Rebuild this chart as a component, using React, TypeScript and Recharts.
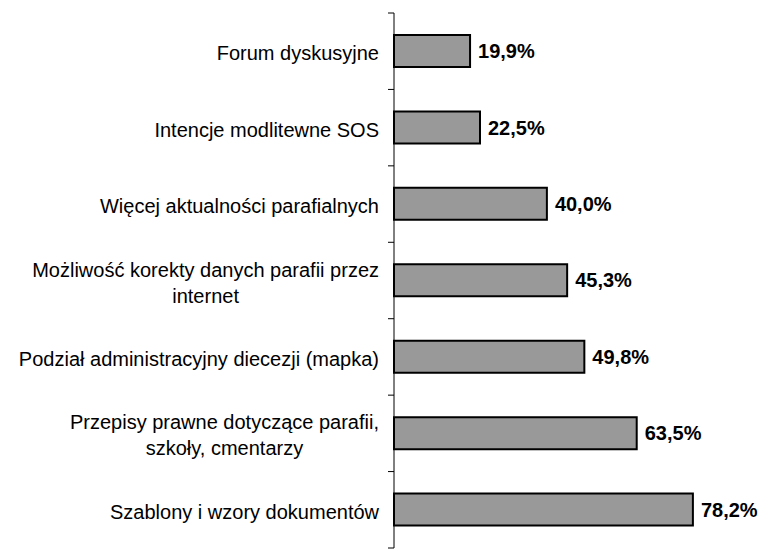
import { BarChart, Bar, XAxis, YAxis, LabelList } from 'recharts';

const categories = [
  'Forum dyskusyjne',
  'Intencje modlitewne SOS',
  'Więcej aktualności parafialnych',
  'Możliwość korekty danych parafii przez\ninternet',
  'Podział administracyjny diecezji (mapka)',
  'Przepisy prawne dotyczące parafii,\nszkoły, cmentarzy',
  'Szablony i wzory dokumentów',
];
const values = [19.9, 22.5, 40.0, 45.3, 49.8, 63.5, 78.2];

const data = categories.map((name, i) => ({ name, value: values[i] }));

const FONT = '"Liberation Sans", Arial, sans-serif';
const FONT_SIZE = 20;
const CHART_H = 549;
const MARGIN = { top: 13, right: 26, bottom: 1, left: 0 };
const BAND = (CHART_H - MARGIN.top - MARGIN.bottom) / categories.length;

let ctx: CanvasRenderingContext2D | null = null;
function textWidth(s: string) {
  if (!ctx) ctx = document.createElement('canvas').getContext('2d');
  if (!ctx) return s.length * 9;
  ctx.font = `${FONT_SIZE}px ${FONT}`;
  return ctx.measureText(s).width;
}

function CategoryTick(props: any) {
  const { x, y, payload, index } = props;
  const lines: string[] = String(payload.value).split('\n');
  const right = x - 9;
  const maxW = Math.max(...lines.map(textWidth));
  const lineH = 26;
  const startY = y - ((lines.length - 1) * lineH) / 2 + 2;
  return (
    <g>
      <line x1={x} x2={x + 6} y1={y - BAND / 2} y2={y - BAND / 2} stroke="#000" />
      {index === categories.length - 1 && (
        <line x1={x} x2={x + 6} y1={y + BAND / 2} y2={y + BAND / 2} stroke="#000" />
      )}
      <text
        fontFamily={FONT}
        fontSize={FONT_SIZE}
        fill="#000"
        textAnchor={lines.length > 1 ? 'middle' : 'end'}
        dominantBaseline="central"
      >
        {lines.map((l, i) => (
          <tspan key={i} x={lines.length > 1 ? right - maxW / 2 : right} y={startY + i * lineH}>
            {l}
          </tspan>
        ))}
      </text>
    </g>
  );
}

export default function App() {
  return (
    <div style={{ position: 'absolute', left: 0, top: 0, background: '#fff' }}>
      <BarChart width={764} height={CHART_H} data={data} layout="vertical" margin={MARGIN} barSize={32}>
        <XAxis type="number" domain={[0, 90]} hide />
        <YAxis
          type="category"
          dataKey="name"
          width={394}
          axisLine={{ stroke: '#000' }}
          tickLine={false}
          tickSize={6}
          tickMargin={0}
          interval={0}
          tick={<CategoryTick />}
        />
        <Bar dataKey="value" fill="#999999" stroke="#000" strokeWidth={2} isAnimationActive={false}>
          <LabelList
            dataKey="value"
            position="right"
            offset={8}
            formatter={(v: any) => `${Number(v).toFixed(1).replace('.', ',')}%`}
            style={{ fontFamily: FONT, fontSize: FONT_SIZE, fontWeight: 'bold', fill: '#000' }}
          />
        </Bar>
      </BarChart>
    </div>
  );
}
